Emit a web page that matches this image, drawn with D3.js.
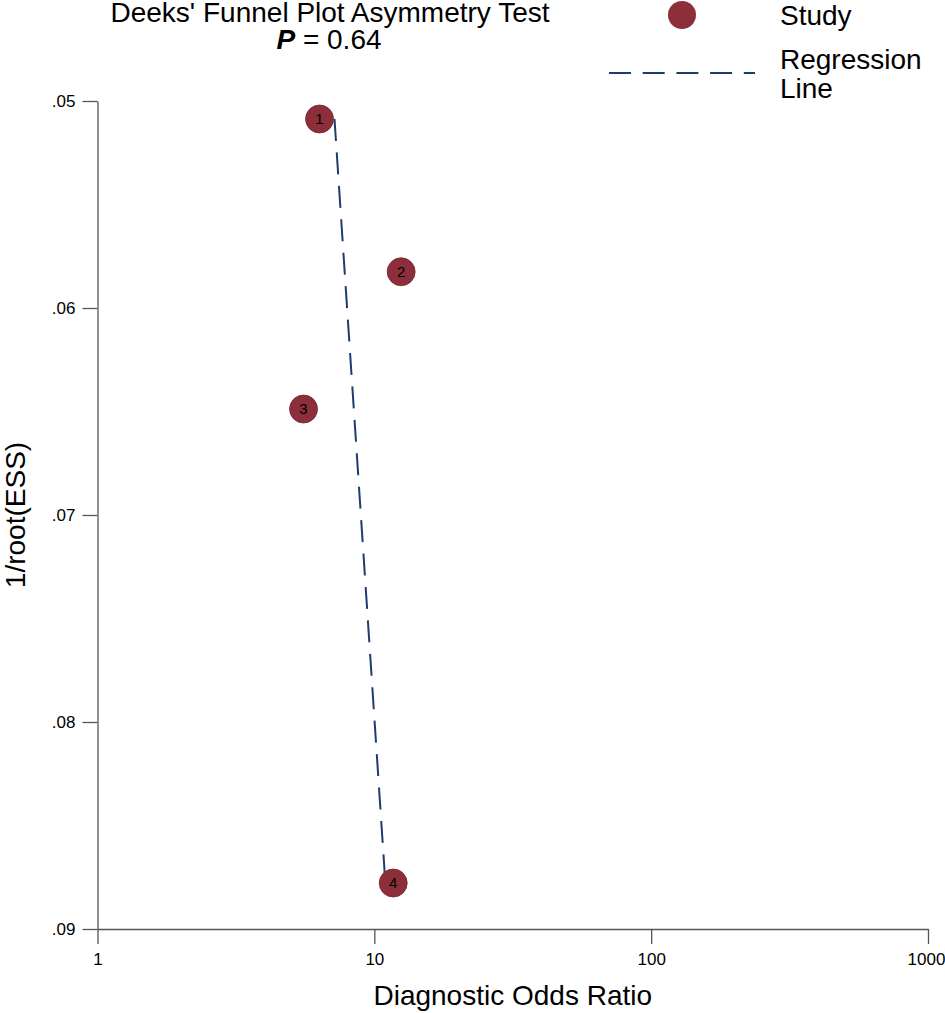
<!DOCTYPE html>
<html>
<head>
<meta charset="utf-8">
<script src="https://cdn.jsdelivr.net/npm/d3@7"></script>
<style>
  body { margin: 0; background: #fff; }
  text { font-family: "Liberation Sans", Arial, sans-serif; }
</style>
</head>
<body>
<div id="chart"></div>
<script>
// Study data
const studyIds = ["1", "2", "3", "4"];
const dorValues = [6.34, 12.5, 5.55, 11.7];
const invRootEss = [0.05087, 0.05825, 0.06488, 0.08778];

// Regression line end points
const lineDor = [7.18, 10.96];
const lineEss = [0.05087, 0.08778];

const xTicks = [1, 10, 100, 1000];
const yTicks = [0.05, 0.06, 0.07, 0.08, 0.09];

const width = 945;
const height = 1013;
const margin = { top: 101, right: 17, bottom: 84, left: 97.5 };

const svg = d3.select("#chart")
  .append("svg")
  .attr("width", width)
  .attr("height", height);

const xScale = d3.scaleLog()
  .domain([1, 1000])
  .range([margin.left, width - margin.right]);

const yScale = d3.scaleLinear()
  .domain([0.05, 0.09])
  .range([margin.top, height - margin.bottom]);

// Axes
const xAxis = svg.append("g")
  .attr("transform", `translate(0,${height - margin.bottom})`)
  .call(d3.axisBottom(xScale)
    .tickValues(xTicks)
    .tickFormat(d3.format("d"))
    .tickSize(15)
    .tickPadding(9)
    .tickSizeOuter(0));

const yAxis = svg.append("g")
  .attr("transform", `translate(${margin.left},0)`)
  .call(d3.axisLeft(yScale)
    .tickValues(yTicks)
    .tickFormat(d => d3.format(".2f")(d).replace(/^0/, ""))
    .tickSize(15)
    .tickPadding(7)
    .tickSizeOuter(0));

[xAxis, yAxis].forEach(g => {
  g.select(".domain").attr("stroke", "#555").attr("stroke-width", 1.3);
  g.selectAll(".tick line").attr("stroke", "#555").attr("stroke-width", 1.3);
  g.selectAll(".tick text")
    .attr("fill", "#000")
    .style("font-size", "17px")
    .style("font-family", "'Liberation Sans', Arial, sans-serif");
});

// keep the last label inside the page
xAxis.selectAll(".tick text").filter(d => d === 1000).attr("dx", "-2px");

// Axis labels
svg.append("text")
  .attr("x", (margin.left + width - margin.right) / 2)
  .attr("y", 1005)
  .attr("text-anchor", "middle")
  .style("font-size", "28px")
  .text("Diagnostic Odds Ratio");

svg.append("text")
  .attr("transform", `translate(25,${(margin.top + height - margin.bottom) / 2}) rotate(-90)`)
  .attr("text-anchor", "middle")
  .style("font-size", "28px")
  .text("1/root(ESS)");

// Regression line
const line = d3.line()
  .x(d => xScale(d[0]))
  .y(d => yScale(d[1]));

svg.append("path")
  .datum(lineDor.map((d, i) => [d, lineEss[i]]))
  .attr("d", line)
  .attr("fill", "none")
  .attr("stroke", "#1f3c6e")
  .attr("stroke-width", 2)
  .attr("stroke-dasharray", "22,11.5");

// Study points
const points = svg.selectAll("g.study")
  .data(studyIds)
  .enter()
  .append("g")
  .attr("class", "study")
  .attr("transform", (d, i) => `translate(${xScale(dorValues[i])},${yScale(invRootEss[i])})`);

points.append("circle")
  .attr("r", 14)
  .attr("fill", "#8c2f3b")
  .attr("stroke", "#7a2531")
  .attr("stroke-width", 0.8);

points.append("text")
  .attr("text-anchor", "middle")
  .attr("dy", "0.36em")
  .style("font-size", "15px")
  .attr("fill", "#000")
  .text(d => d);

// Title
svg.append("text")
  .attr("x", 330)
  .attr("y", 22)
  .attr("text-anchor", "middle")
  .style("font-size", "28px")
  .text("Deeks' Funnel Plot Asymmetry Test");

const pText = svg.append("text")
  .attr("x", 329)
  .attr("y", 49)
  .attr("text-anchor", "middle")
  .style("font-size", "28px");
pText.append("tspan").style("font-weight", "bold").style("font-style", "italic").text("P");
pText.append("tspan").text(" = 0.64");

// Legend
svg.append("circle")
  .attr("cx", 682)
  .attr("cy", 15)
  .attr("r", 14)
  .attr("fill", "#8c2f3b");

svg.append("text")
  .attr("x", 780)
  .attr("y", 25)
  .style("font-size", "28px")
  .text("Study");

svg.append("line")
  .attr("x1", 609)
  .attr("x2", 755)
  .attr("y1", 73)
  .attr("y2", 73)
  .attr("stroke", "#1f3c6e")
  .attr("stroke-width", 2)
  .attr("stroke-dasharray", "22,11.7");

svg.append("text")
  .attr("x", 780)
  .attr("y", 69)
  .style("font-size", "28px")
  .text("Regression");

svg.append("text")
  .attr("x", 780)
  .attr("y", 98)
  .style("font-size", "28px")
  .text("Line");
</script>
</body>
</html>
